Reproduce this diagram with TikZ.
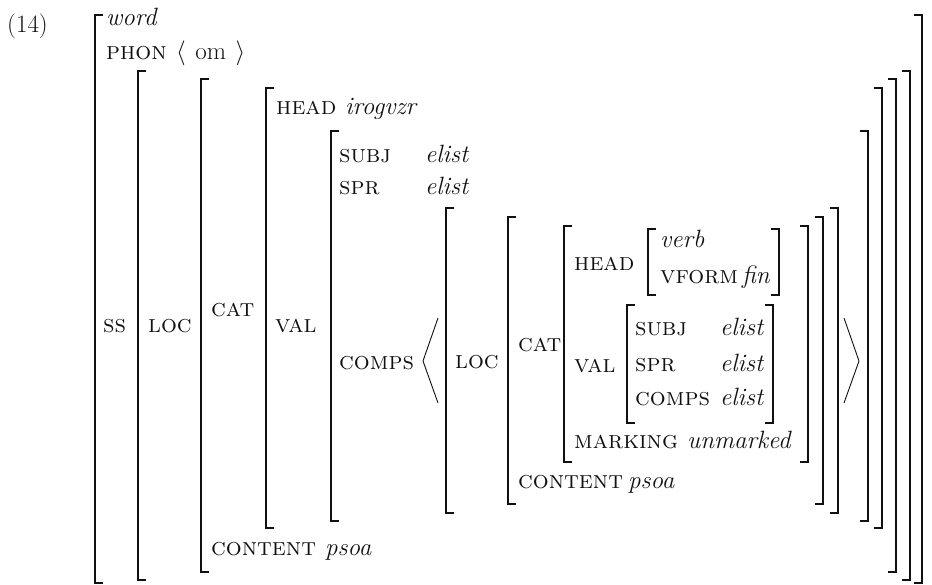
\documentclass[tikz,border=0pt]{standalone}
\usepackage{amsmath,amssymb}
\usetikzlibrary{positioning,calc}
\definecolor{ink}{HTML}{111111}
\newcommand{\avmsz}{\fontsize{25pt}{29pt}\selectfont}
\tikzset{
  brk/.style={draw=ink, line width=1.3pt},
  ang/.style={draw=ink, line width=0.9pt},
  plain/.style={anchor=base west, inner sep=0pt, text=ink, font=\avmsz},
  feat/.style={plain, font=\avmsz\scshape},
  val/.style={plain, font=\avmsz\itshape},
}

\begin{document}
\begin{tikzpicture}[x=1pt, y=-1pt]
    \useasboundingbox (0,0) rectangle (932,585);
    % brackets: left x / right x / top / bottom
    \foreach \xl/\xr/\yt/\yb in {95/922/15/583, 138/910/71/580, 201/896/79/572,
        266/882/88/528, 331/868/131/521, 446/838/208/513, 508/823/217/504,
        564/808/226/462, 648/779/229/295, 627/773/305/423} {
      \draw[brk] (\xl+8,\yt) -- (\xl,\yt) -- (\xl,\yb) -- (\xl+8,\yb);
      \draw[brk] (\xr-8,\yt) -- (\xr,\yt) -- (\xr,\yb) -- (\xr-8,\yb);
    }
    % list of complements
    \coordinate (la1) at (438,318); \coordinate (la2) at (423,361); \coordinate (la3) at (438,403);
    \coordinate (ra1) at (844,318); \coordinate (ra2) at (859,361); \coordinate (ra3) at (844,403);
    \draw[ang] (la1) -- (la2) -- (la3);
    \draw[ang] (ra1) -- (ra2) -- (ra3);

    \node[plain] (num) at (7,33) {(14)};
    \node[val] (word) at (106,26) {word};
    \node[feat] (phon) at (106,60) {phon $\langle$ {\upshape om} $\rangle$};
    \node[feat] (ss) at (103,333) {ss};
    \node[feat] (loc) at (148,333) {loc};
    \node[feat] (cat) at (211,317) {cat};
    \node[feat] (head) at (276,115) {head};
    \node[val] (irogvzr) at (345,115) {irogvzr};
    \node[feat] (valf) at (275,333) {val};
    \node[feat] (subj) at (339,163) {subj};
    \node[val] (subjv) at (425,163) {elist};
    \node[feat] (spr) at (339,195) {spr};
    \node[val] (sprv) at (425,195) {elist};
    \node[feat] (comps) at (339,370) {comps};
    \node[feat] (cont) at (211,555) {content};
    \node[val] (contv) at (325,555) {psoa};
    % the complement
    \node[feat] (iloc) at (455,369) {loc};
    \node[feat] (icat) at (518,352) {cat};
    \node[feat] (ihead) at (574,271) {head};
    \node[val] (verb) at (660,248) {verb};
    \node[feat] (vform) at (660,284) {vform};
    \node[val] (fin) at (742,284) {fin};
    \node[feat] (ival) at (574,372) {val};
    \node[feat] (isubj) at (635,336) {subj};
    \node[val] (isubjv) at (720,336) {elist};
    \node[feat] (ispr) at (635,371) {spr};
    \node[val] (isprv) at (720,371) {elist};
    \node[feat] (icomps) at (635,406) {comps};
    \node[val] (icompsv) at (720,406) {elist};
    \node[feat] (mark) at (574,448) {marking};
    \node[val] (markv) at (687,448) {unmarked};
    \node[feat] (icont) at (518,488) {content};
    \node[val] (icontv) at (628,488) {psoa};
  \end{tikzpicture}
\end{document}
